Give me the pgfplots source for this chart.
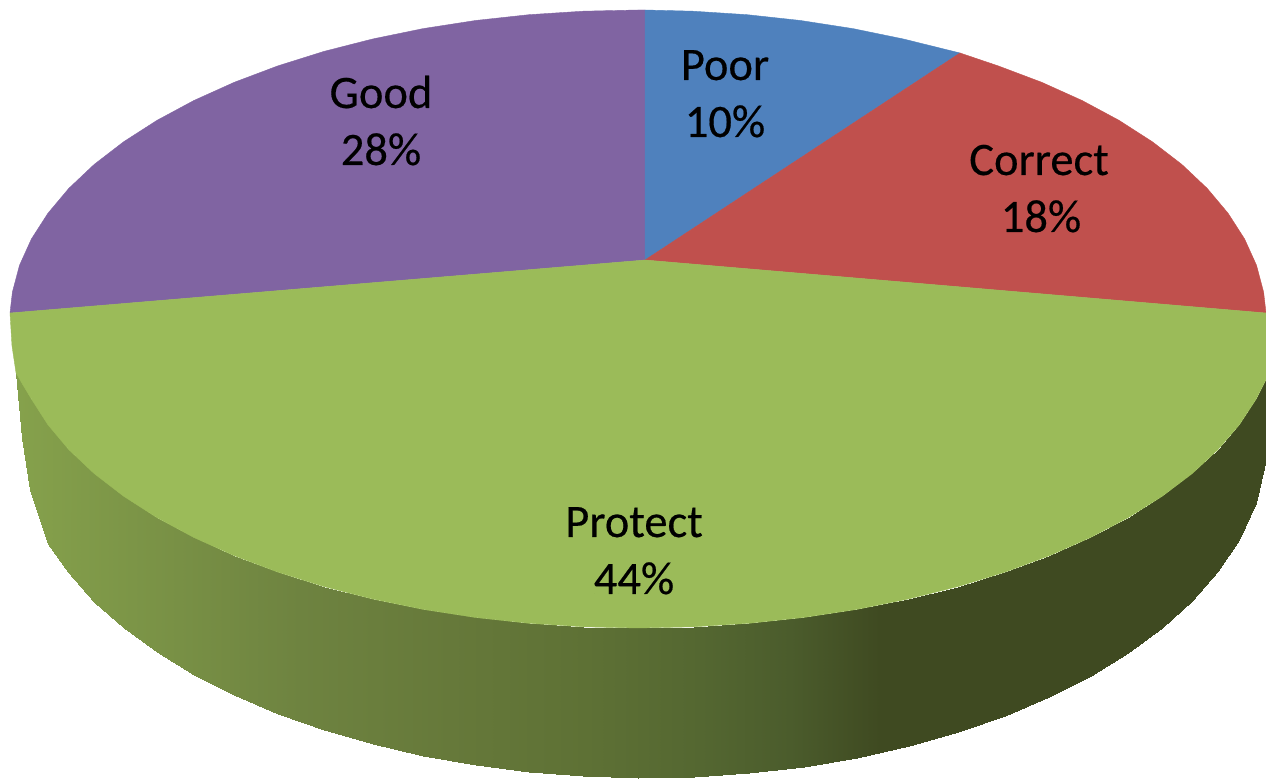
\documentclass[border=0pt]{standalone}
\usepackage{fontspec}
\setmainfont[BoldFont=Carlito, BoldFeatures={FakeBold=0.4}]{Carlito}
\usepackage{pgfplots}
\pgfplotsset{compat=1.18}
\usepgfplotslibrary{patchplots}
\definecolor{poorc}{RGB}{79,129,189}
\definecolor{correctc}{RGB}{192,80,77}
\definecolor{protectc}{RGB}{155,187,89}
\definecolor{goodc}{RGB}{128,100,162}
\pgfplotsset{
  colormap={wall}{
    rgb255(0pt)=(134,162,76) rgb255(290pt)=(110,131,64) rgb255(440pt)=(102,121,58)
    rgb255(576pt)=(94,113,53) rgb255(690pt)=(84,103,49) rgb255(780pt)=(75,92,44)
    rgb255(870pt)=(63,74,33) rgb255(1256pt)=(63,74,33)
  },
  slice/.style={fill=#1, draw=#1, line width=0.4pt, forget plot},
}
\newcommand{\lab}[3]{\node[anchor=base, text=black, font=\fontsize{46.5}{56}\bfseries] at (axis cs:#1,#2) {#3};}
\begin{document}
\begin{tikzpicture}
\path[use as bounding box] (0,0) rectangle (1266pt,779pt);
\begin{axis}[
  scale only axis, width=1266pt, height=779pt,
  xmin=0, xmax=1266, ymin=0, ymax=779,
  hide axis, clip=true,
  point meta min=10, point meta max=1266,
  colormap name=wall,
]
% side wall, top row then bottom row
\addplot[surf, shader=interp, mesh/rows=2, point meta=x, forget plot] table {
x y
12 433.1
16 406.3
23 394
31.4 380
47.9 354.3
68.8 329.4
94.1 305.5
123.6 282.8
156.9 261.4
193.9 241.5
234.3 223.3
277.8 206.9
324 192.4
372.6 180
423.2 169.6
475.5 161.5
528.9 155.7
583.3 152.2
638 151
693.8 152.2
749.1 155.7
803.6 161.5
856.9 169.6
908.5 180
958 192.4
1005.1 206.9
1049.4 223.3
1090.5 241.5
1128.3 261.4
1162.3 282.8
1192.3 305.5
1218 329.4
1239.4 354.3
1256.2 380
1266 399.4
12 433.1
16 406.3
22 341
30 289
48 235
68 206.5
94.1 177.2
123.6 151.3
156.9 126.8
193.9 104.3
234.3 83.6
277.8 65
324 48.7
372.6 34.6
423.2 22.8
475.5 13.6
528.9 6.8
583.3 2.6
638 1
693.8 2.1
749.1 5.8
803.6 12.2
856.9 21.2
908.5 32.8
958 46.9
1005.1 63.4
1049.4 82.2
1090.5 103.1
1128.3 126.2
1162.3 151.3
1192.3 178.4
1218 207.5
1239.4 239.4
1256.2 276.2
1266 320
};
% Good
\addplot[slice=goodc] coordinates {
(645,519) (645,769) (638,769) (583.3,767.8) (528.9,764.3) (475.5,758.5) (423.2,750.4)
(372.6,740) (324,727.6) (277.8,713.1) (234.3,696.7) (193.9,678.5) (156.9,658.6)
(123.6,637.2) (94.1,614.5) (68.8,590.6) (47.9,565.7) (31.4,540) (19.5,513.7) (12.4,486.9) (10,466)
} -- cycle;
% Poor
\addplot[slice=poorc] coordinates {
(645,519) (645,769) (692.7,767.8) (747.1,764.3) (800.5,758.5) (852.8,750.4) (903.4,740) (960,726)
} -- cycle;
% Correct
\addplot[slice=correctc] coordinates {
(645,519) (960,726) (998.2,713.1) (1041.7,696.7) (1082.1,678.5) (1119.1,658.6) (1152.4,637.2)
(1181.9,614.5) (1207.2,590.6) (1228.1,565.7) (1244.6,540) (1256.5,513.7) (1263.6,486.9) (1266,466)
} -- cycle;
% Protect
\addplot[slice=protectc] coordinates {
(645,519) (1266,466) (1266,399.4) (1256.2,380) (1239.4,354.3) (1218,329.4) (1192.3,305.5)
(1162.3,282.8) (1128.3,261.4) (1090.5,241.5) (1049.4,223.3) (1005.1,206.9) (958,192.4)
(908.5,180) (856.9,169.6) (803.6,161.5) (749.1,155.7) (693.8,152.2) (638,151) (583.3,152.2)
(528.9,155.7) (475.5,161.5) (423.2,169.6) (372.6,180) (324,192.4) (277.8,206.9) (234.3,223.3)
(193.9,241.5) (156.9,261.4) (123.6,282.8) (94.1,305.5) (68.8,329.4) (47.9,354.3) (31.4,380)
(23,394) (16,406.3) (12,433.1) (10,466)
} -- cycle;
\lab{725}{699}{Poor}
\lab{725}{642}{10\%}
\lab{1039}{604}{Correct}
\lab{1041}{547}{18\%}
\lab{381}{671}{Good}
\lab{381}{614}{28\%}
\lab{634}{242}{Protect}
\lab{634}{185}{44\%}
\end{axis}
\end{tikzpicture}
\end{document}
